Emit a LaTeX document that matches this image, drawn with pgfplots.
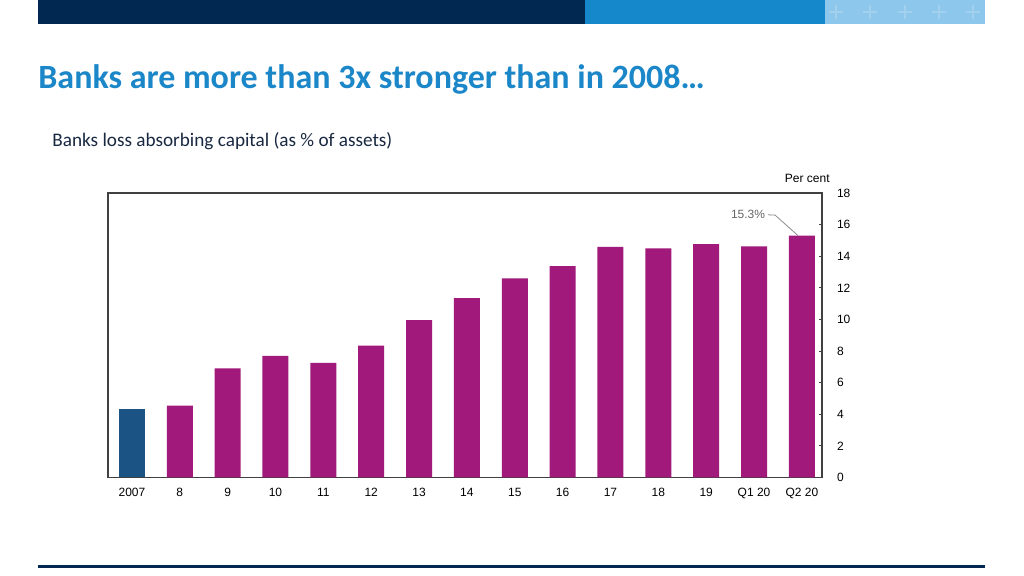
\documentclass[border=0pt]{standalone}
\usepackage{fontspec}
\setmainfont{Liberation Sans}
\newfontfamily\calibri{Carlito}
\usepackage{pgfplots}
\pgfplotsset{compat=1.18}
\definecolor{navy}{RGB}{0,40,80}
\definecolor{midblue}{RGB}{20,136,202}
\definecolor{lightblue}{RGB}{141,200,236}
\definecolor{titleblue}{RGB}{27,135,200}
\definecolor{subcol}{RGB}{25,40,65}
\definecolor{magbar}{RGB}{161,26,123}
\definecolor{bluebar}{RGB}{27,83,132}
\begin{document}
\begin{tikzpicture}
\useasboundingbox (0,0) rectangle (512pt,288pt);
\fill[navy] (19pt,276pt) rectangle (292.5pt,288pt);
\fill[midblue] (292.5pt,276pt) rectangle (412.5pt,288pt);
\fill[lightblue] (412.5pt,276pt) rectangle (492.5pt,288pt);
\foreach \cx in {418,435,452.5,469.5,486.5} {
  \draw[white,opacity=0.18,line width=1pt] (\cx pt-3.5pt,282pt) -- (\cx pt+3.5pt,282pt) (\cx pt,278.5pt) -- (\cx pt,285.5pt);
}
\node[anchor=base west, inner sep=0, text=titleblue] at (19pt,243.5pt) {\calibri\bfseries\fontsize{17}{20}\selectfont Banks are more than 3x stronger than in 2008…};
\node[anchor=base west, inner sep=0, text=subcol] at (26pt,214.5pt) {\calibri\fontsize{9.6}{12}\selectfont Banks loss absorbing capital (as \% of assets)};
\draw[navy, line width=1.5pt] (19pt,4.5pt) -- (492.5pt,4.5pt);
\node[anchor=east, inner sep=0] at (415pt,199pt) {\fontsize{6}{7}\selectfont Per cent};
\begin{axis}[
  at={(54pt,49.25pt)}, anchor=south west,
  scale only axis, width=357pt, height=142.25pt,
  xmin=-0.5, xmax=14.42, ymin=0, ymax=18,
  ytick={0,2,...,18},
  xtick={0,...,14},
  xticklabels={2007,8,9,10,11,12,13,14,15,16,17,18,19,Q1 20,Q2 20},
  axis line style={draw=black!75, line width=0.7pt},
  ytick pos=right, yticklabel pos=right,
  tick align=inside, major tick length=1.5pt,
  tick style={draw=black!75, line width=0.5pt},
  xtick style={draw=none},
  /pgf/number format/assume math mode=true,
  ticklabel style={font=\fontsize{6}{7}\selectfont},
  xticklabel style={yshift=-2pt},
  yticklabel style={anchor=west, xshift=4pt},
  clip=false,
]
\addplot[ybar, bar width=13pt, bar shift=0pt, fill=bluebar, draw=none] coordinates {(0,4.33)};
\addplot[ybar, bar width=13pt, bar shift=0pt, fill=magbar, draw=none] coordinates {
(1,4.54) (2,6.91) (3,7.70) (4,7.25) (5,8.35) (6,9.96) (7,11.35) (8,12.60) (9,13.38) (10,14.59) (11,14.49) (12,14.76) (13,14.63) (14,15.30)};
\draw[black!45, line width=0.4pt] (axis cs:13.29,16.62) -- (axis cs:13.44,16.60) -- (axis cs:13.92,15.30);
\node[anchor=east, inner sep=1pt, text=black!60, font=\fontsize{6}{7}\selectfont] at (axis cs:13.28,16.62) {15.3\%};
\end{axis}
\end{tikzpicture}
\end{document}
